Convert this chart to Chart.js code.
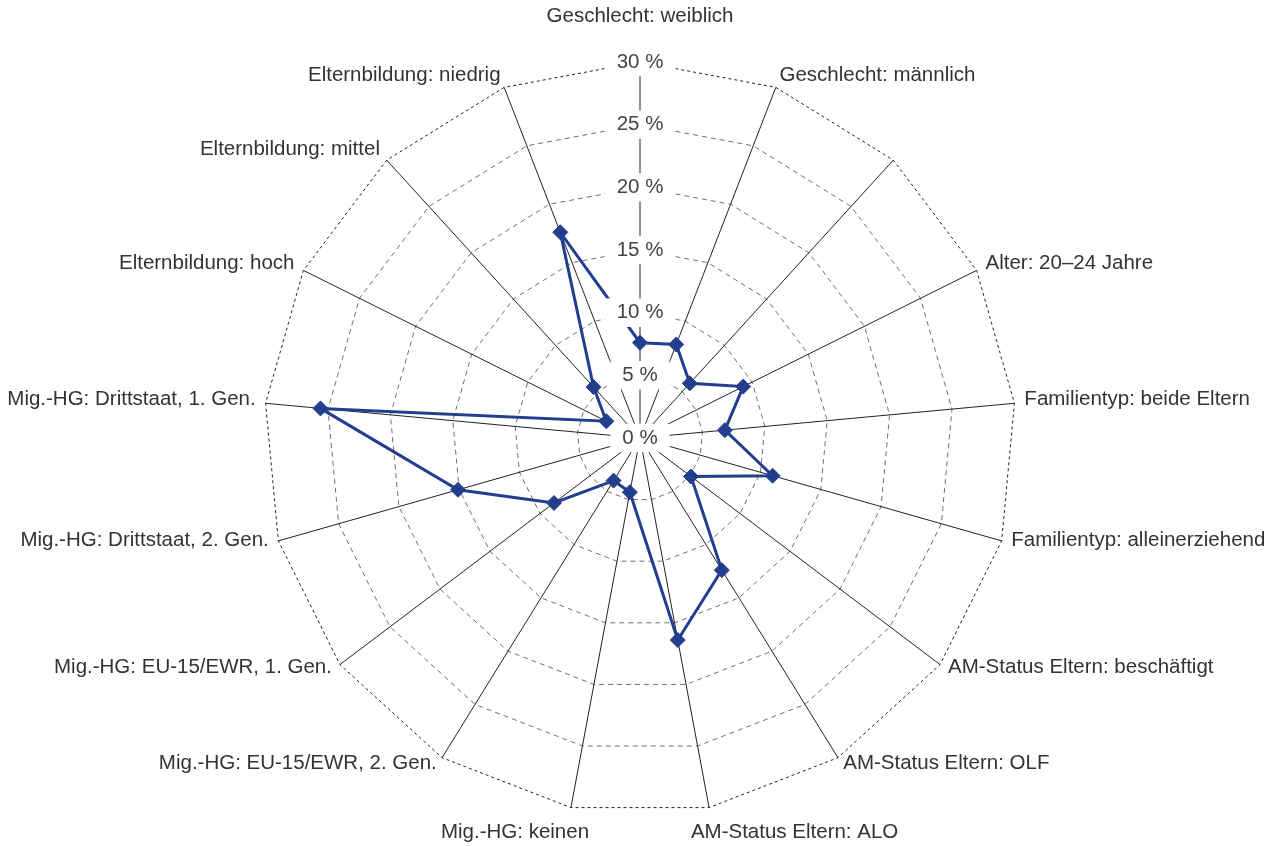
<!DOCTYPE html>
<html>
<head>
<meta charset="utf-8">
<script src="https://cdn.jsdelivr.net/npm/chart.js@4.4.1/dist/chart.umd.min.js"></script>
<style>
html,body{margin:0;padding:0;background:#fff;}
#wrap{width:1270px;height:846px;position:relative;}
</style>
</head>
<body>
<div id="wrap"><canvas id="c"></canvas></div>
<script>
const categories = [
  "Geschlecht: weiblich",
  "Geschlecht: männlich",
  "",
  "Alter: 20–24 Jahre",
  "Familientyp: beide Eltern",
  "Familientyp: alleinerziehend",
  "AM-Status Eltern: beschäftigt",
  "AM-Status Eltern: OLF",
  "AM-Status Eltern: ALO",
  "Mig.-HG: keinen",
  "Mig.-HG: EU-15/EWR, 2. Gen.",
  "Mig.-HG: EU-15/EWR, 1. Gen.",
  "Mig.-HG: Drittstaat, 2. Gen.",
  "Mig.-HG: Drittstaat, 1. Gen.",
  "Elternbildung: hoch",
  "Elternbildung: mittel",
  "Elternbildung: niedrig"
];
const shares = [7.6, 8.0, 5.9, 9.2, 6.8, 11.0, 5.1, 12.4, 16.4, 4.4, 4.0, 8.6, 15.1, 25.6, 3.0, 5.5, 17.6];
const tickValues = [0, 5, 10, 15, 20, 25, 30];
const tickLabels = ["0 %", "5 %", "10 %", "15 %", "20 %", "25 %", "30 %"];

const FONT_FAMILY = "'Liberation Sans', Arial, sans-serif";
const FONT_SIZE = 20.5;
const TEXT_COLOR = '#333';
const TICK_COLOR = '#444';
const LINE_COLOR = '#233e8e';
const PAD_X = 12, PAD_Y = 4;

// draws the "0 %" label (Chart.js skips the first tick label) at the scale centre
const zeroLabelPlugin = {
  id: 'zeroLabel',
  beforeDatasetsDraw(chart) {
    const s = chart.scales.r, ctx = chart.ctx;
    const txt = tickLabels[0];
    ctx.save();
    ctx.font = FONT_SIZE + 'px ' + FONT_FAMILY;
    const w = ctx.measureText(txt).width;
    const y = s.getPointPositionForValue(0, tickValues[0]).y;
    ctx.fillStyle = '#fff';
    ctx.fillRect(s.xCenter - w / 2 - PAD_X, y - FONT_SIZE / 2 - PAD_Y, w + 2 * PAD_X, FONT_SIZE + 2 * PAD_Y);
    ctx.fillStyle = TICK_COLOR;
    ctx.textAlign = 'center';
    ctx.textBaseline = 'middle';
    ctx.fillText(txt, s.xCenter, y);
    ctx.restore();
  }
};

// category labels placed just beyond the end of each spoke
const spokeLabelPlugin = {
  id: 'spokeLabels',
  afterDraw(chart) {
    const s = chart.scales.r, ctx = chart.ctx;
    ctx.save();
    ctx.font = FONT_SIZE + 'px ' + FONT_FAMILY;
    ctx.fillStyle = TEXT_COLOR;
    categories.forEach((txt, i) => {
      if (!txt) return;
      const a = s.getIndexAngle(i);
      const sn = Math.sin(a), cs = Math.cos(a);
      const p = s.getPointPosition(i, s.drawingArea + 10);
      let x = p.x, y = p.y - 3, align, base = 'middle';
      if (Math.abs(sn) < 0.05 && cs > 0) {
        align = 'center';
        y = s.yCenter - s.drawingArea - 46;
      } else if (cs < -0.95) {
        align = sn > 0 ? 'left' : 'right';
        base = 'top';
        y = p.y + 5;
        x = p.x - Math.sign(sn) * 20;
      } else {
        align = sn > 0 ? 'left' : 'right';
      }
      ctx.textAlign = align;
      ctx.textBaseline = base;
      ctx.fillText(txt, x, y);
    });
    ctx.restore();
  }
};

const lastTick = tickValues.length - 1;

new Chart(document.getElementById('c'), {
  type: 'radar',
  data: {
    labels: categories,
    datasets: [{
      data: shares,
      borderColor: LINE_COLOR,
      backgroundColor: LINE_COLOR,
      borderWidth: 3,
      fill: false,
      tension: 0,
      pointStyle: 'rectRot',
      pointRadius: 7.5,
      pointBorderWidth: 1,
      pointBackgroundColor: LINE_COLOR,
      pointBorderColor: LINE_COLOR
    }]
  },
  options: {
    responsive: true,
    maintainAspectRatio: false,
    animation: false,
    layout: { padding: { top: 48, bottom: 17, left: 11, right: 0 } },
    plugins: { legend: { display: false }, tooltip: { enabled: false } },
    elements: { line: { borderJoinStyle: 'miter' } },
    scales: {
      r: {
        min: tickValues[0],
        max: tickValues[lastTick],
        startAngle: 0,
        ticks: {
          stepSize: tickValues[1] - tickValues[0],
          z: 1,
          color: TICK_COLOR,
          font: { family: FONT_FAMILY, size: FONT_SIZE },
          showLabelBackdrop: true,
          backdropColor: '#fff',
          backdropPadding: { x: PAD_X, y: PAD_Y },
          callback: (v) => tickLabels[tickValues.indexOf(v)]
        },
        pointLabels: { display: false },
        grid: {
          circular: false,
          color: (c) => c.index === lastTick ? '#222' : '#6f6f6f',
          lineWidth: 1
        },
        border: {
          dash: (c) => c.index === lastTick ? [3, 3] : [5, 4]
        },
        angleLines: { display: true, color: '#222', lineWidth: 1 }
      }
    }
  },
  plugins: [zeroLabelPlugin, spokeLabelPlugin]
});
</script>
</body>
</html>
